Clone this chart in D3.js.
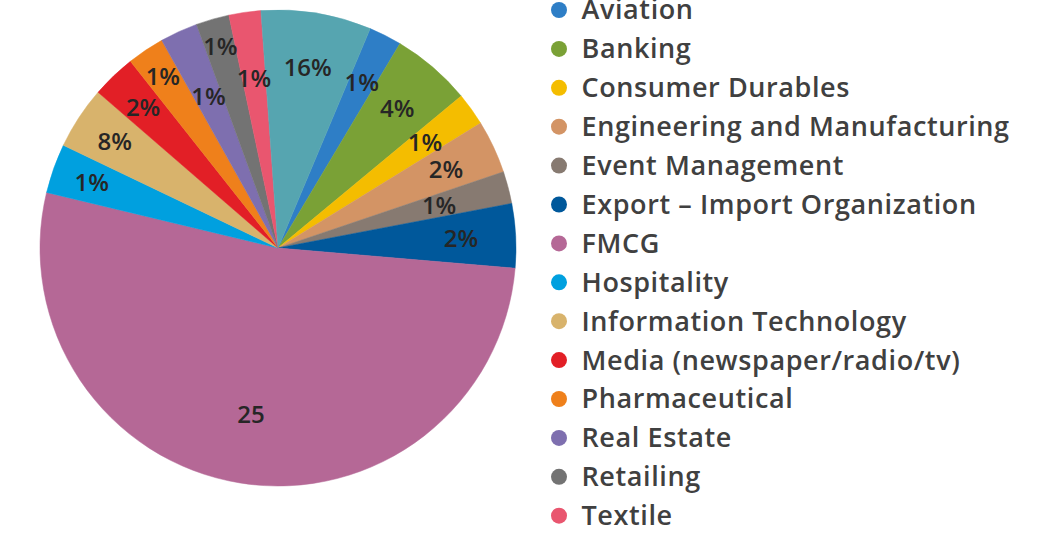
<!DOCTYPE html>
<html>
<head>
<meta charset="utf-8">
<script src="https://cdn.jsdelivr.net/npm/d3@7"></script>
<style>
  html, body { margin: 0; padding: 0; background: #ffffff; }
  svg { display: block; }
  text { font-family: "Open Sans", "Noto Sans", sans-serif; font-weight: 600; }
</style>
</head>
<body>
<svg id="chart"></svg>
<script>
// sectors, in the order they go round the pie (clockwise)
var sectors = ["Aviation", "Banking", "Consumer Durables", "Engineering and Manufacturing",
  "Event Management", "Export \u2013 Import Organization", "FMCG", "Hospitality",
  "Information Technology", "Media (newspaper/radio/tv)", "Pharmaceutical",
  "Real Estate", "Retailing", "Textile", "Others"];
// share of each sector
var counts = [1.07, 2.6, 1.07, 1.73, 1.05, 2.09, 25.15, 1.61, 2.04, 1.44, 1.21, 1.23, 1.08, 1.04, 3.59];
// labels as printed on the slices
var sliceLabels = ["1%", "4%", "1%", "2%", "1%", "2%", "25", "1%", "8%", "2%", "1%", "1%", "1%", "1%", "16%"];
var colors = ["#2e7ec6", "#7aa136", "#f4bd00", "#d39465", "#877a71", "#00589b", "#b56896",
  "#00a0df", "#d8b36c", "#e21f26", "#ef801b", "#7e6faf", "#737373", "#e9566f", "#56a5b0"];

// label distance from centre, as a share of the radius
var labelR = [0.78, 0.77, 0.76, 0.78, 0.70, 0.77, 0.71, 0.83, 0.82, 0.82, 0.87, 0.70, 0.88, 0.72, 0.77];

var width = 1054, height = 535;
var cx = 278, cy = 248, radius = 238;
var startDeg = 22.8;

var svg = d3.select("#chart")
  .attr("width", width)
  .attr("height", height);

var pie = d3.pie()
  .sort(null)
  .value(function(d) { return d; })
  .startAngle(startDeg * Math.PI / 180)
  .endAngle(startDeg * Math.PI / 180 + 2 * Math.PI);

var arcs = pie(counts);
var arc = d3.arc().innerRadius(0).outerRadius(radius);

var g = svg.append("g").attr("transform", "translate(" + cx + "," + cy + ")");

g.selectAll("path.slice")
  .data(arcs)
  .enter().append("path")
  .attr("class", "slice")
  .attr("d", arc)
  .attr("fill", function(d, i) { return colors[i]; })
  .attr("stroke", function(d, i) { return colors[i]; })
  .attr("stroke-width", 0.5);

g.selectAll("text.lbl")
  .data(arcs)
  .enter().append("text")
  .attr("class", "lbl")
  .attr("transform", function(d, i) {
    var a = (d.startAngle + d.endAngle) / 2;
    var r = radius * labelR[i];
    return "translate(" + (Math.sin(a) * r) + "," + (-Math.cos(a) * r) + ")";
  })
  .attr("text-anchor", "middle")
  .attr("dy", "0.36em")
  .attr("font-size", "24px")
  .attr("fill", "#262626")
  .text(function(d, i) { return sliceLabels[i]; });

// legend (the last row falls below the picture, as in the original)
var legendX = 559, legendY = 10, rowH = 38.9;
var shown = sectors.filter(function(d, i) { return legendY + i * rowH < height; });
var rows = svg.append("g").selectAll("g.row")
  .data(shown)
  .enter().append("g")
  .attr("class", "row")
  .attr("transform", function(d, i) { return "translate(" + legendX + "," + (legendY + i * rowH) + ")"; });

rows.append("circle")
  .attr("r", 8)
  .attr("fill", function(d, i) { return colors[i]; });

rows.append("text")
  .attr("x", 22.5)
  .attr("dy", "0.35em")
  .attr("font-size", "27px")
  .attr("letter-spacing", "0.6px")
  .attr("fill", "#404040")
  .text(function(d) { return d; });
</script>
</body>
</html>
